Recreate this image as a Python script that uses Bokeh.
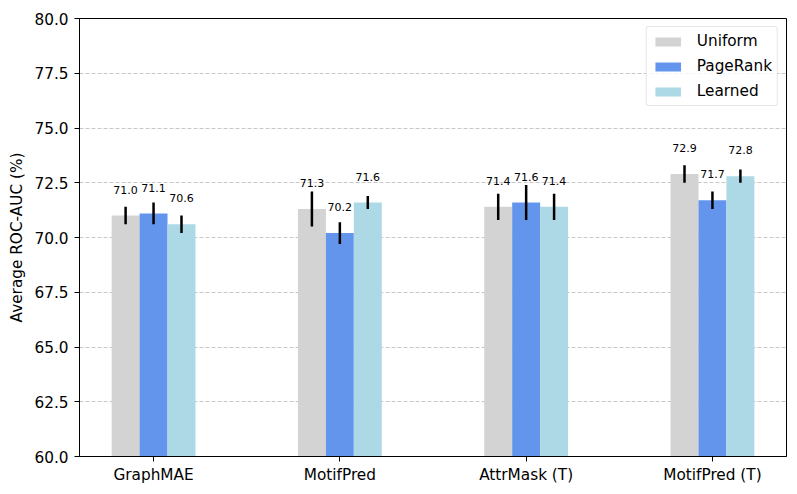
from bokeh.plotting import figure
from bokeh.models import Range1d, FixedTicker, PrintfTickFormatter, ColumnDataSource, Legend, LegendItem
from bokeh.core.properties import value
from bokeh.embed import file_html
from bokeh.resources import INLINE

categories = ["GraphMAE", "MotifPred", "AttrMask (T)", "MotifPred (T)"]
series_names = ["Uniform", "PageRank", "Learned"]
uniform = [71.0, 71.3, 71.4, 72.9]
pagerank = [71.1, 70.2, 71.6, 71.7]
learned = [70.6, 71.6, 71.4, 72.8]
err_uniform = [0.4, 0.8, 0.6, 0.4]
err_pagerank = [0.5, 0.5, 0.8, 0.4]
err_learned = [0.4, 0.3, 0.6, 0.3]
y_ticks = [60.0, 62.5, 65.0, 67.5, 70.0, 72.5, 75.0, 77.5, 80.0]

colors = ["#d3d3d3", "#6495ed", "#add8e6"]
bar_w = 0.15
offsets = [-0.15, 0.0, 0.15]
FONT = "DejaVu Sans"
FS = "15.3px"

p = figure(width=789, height=486, output_backend="svg", toolbar_location=None,
           x_range=Range1d(-0.3975, 3.3975), y_range=Range1d(60, 80),
           min_border_left=79, min_border_right=3, min_border_top=18, min_border_bottom=30)

p.outline_line_color = "black"
p.outline_line_width = 1
p.background_fill_color = "white"
p.border_fill_color = "white"

p.xgrid.visible = False
p.ygrid.grid_line_color = "#c8c8c8"
p.ygrid.grid_line_dash = "4 2"
p.ygrid.grid_line_width = 1

for ax in (p.xaxis[0], p.yaxis[0]):
    ax.major_tick_out = 5
    ax.major_tick_in = 0
    ax.minor_tick_line_color = None
    ax.axis_line_color = "black"
    ax.major_tick_line_color = "black"
    ax.major_label_text_font = FONT
    ax.major_label_text_font_size = FS
    ax.major_label_text_color = "black"
    ax.axis_label_text_font = FONT
    ax.axis_label_text_font_size = FS
    ax.axis_label_text_font_style = "normal"
    ax.axis_label_text_color = "black"

p.xaxis.ticker = FixedTicker(ticks=list(range(len(categories))))
p.xaxis.major_label_overrides = {i: c for i, c in enumerate(categories)}
p.xaxis.major_label_standoff = 4
p.yaxis.ticker = FixedTicker(ticks=y_ticks)
p.yaxis.formatter = PrintfTickFormatter(format="%.1f")
p.yaxis.major_label_standoff = 6
p.yaxis.axis_label = "Average ROC-AUC (%)"
p.yaxis.axis_label_standoff = 5

vals = [uniform, pagerank, learned]
errs = [err_uniform, err_pagerank, err_learned]
items = []
for k in range(3):
    xs = [i + offsets[k] for i in range(len(categories))]
    src = ColumnDataSource(dict(
        x=xs, top=vals[k],
        lower=[v - e for v, e in zip(vals[k], errs[k])],
        upper=[v + e for v, e in zip(vals[k], errs[k])],
        ty=[v + 1.0 for v in vals[k]],
        label=["%.1f" % v for v in vals[k]],
    ))
    r = p.vbar(x="x", top="top", bottom=60, width=bar_w, source=src,
               fill_color=colors[k], line_color=None)
    items.append(LegendItem(label=series_names[k], renderers=[r]))
    p.segment(x0="x", x1="x", y0="lower", y1="upper", source=src,
              line_color="black", line_width=2.5)
    p.text(x="x", y="ty", text="label", source=src, text_align="center",
           text_baseline="bottom", text_font=value(FONT), text_font_size="11px",
           text_color="black")

legend = Legend(items=items, location="top_right")
legend.margin = 8
legend.padding = 5
legend.spacing = 7
legend.glyph_width = 32
legend.glyph_height = 11
legend.label_height = 16
legend.label_standoff = 13
legend.label_text_font = FONT
legend.label_text_font_size = FS
legend.label_text_color = "black"
legend.border_line_color = "#cccccc"
legend.border_line_width = 1
legend.border_radius = 3
legend.background_fill_alpha = 0.8
p.add_layout(legend, "center")

open("out.html", "w").write(file_html(p, INLINE))
